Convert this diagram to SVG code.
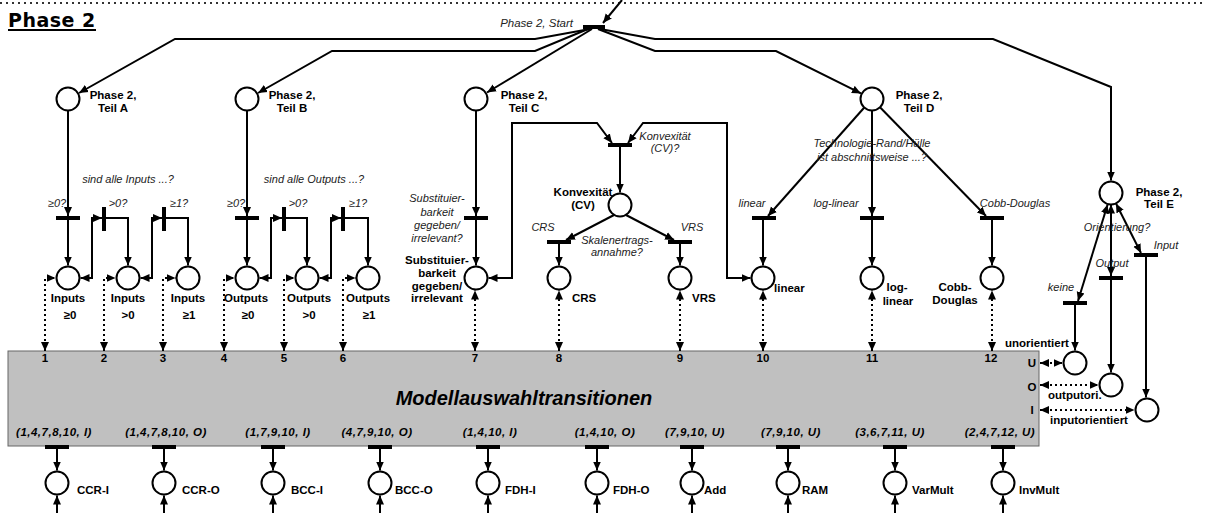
<svg xmlns="http://www.w3.org/2000/svg" width="1206" height="513" viewBox="0 0 1206 513">
<defs>
<marker id="arr" markerUnits="userSpaceOnUse" markerWidth="10" markerHeight="9" refX="9" refY="4" orient="auto-start-reverse" viewBox="0 0 10 8">
<path d="M0,0 L9,4 L0,8 z" fill="#000"/>
</marker>
<style>
.ln{fill:none;stroke:#000;stroke-width:2}
.a{marker-end:url(#arr)}
.aa{marker-start:url(#arr);marker-end:url(#arr)}
.dt{fill:none;stroke:#000;stroke-width:2;stroke-dasharray:2 3}
.pl{fill:#fff;stroke:#000;stroke-width:2}
.tr{fill:#000}
text{font-family:"Liberation Sans",Arial,sans-serif;fill:#000}
.b{font-weight:bold;font-size:11.5px}
.i{font-style:italic;font-size:11px;fill:#222}
.bi{font-weight:bold;font-style:italic;font-size:11.5px;letter-spacing:0.5px}
.m{text-anchor:middle}
</style>
</defs>
<rect width="1206" height="513" fill="#fff"/>
<line x1="0" y1="3" x2="1206" y2="3" stroke="#333" stroke-width="2" stroke-dasharray="2 4"/>
<text x="8" y="27" style="font-family:'DejaVu Sans',sans-serif;font-weight:bold;font-size:19px;letter-spacing:0.5px">Phase 2</text>
<rect x="8" y="29" width="88" height="2" fill="#000"/>

<g id="box">
<rect x="8" y="351" width="1031" height="95" fill="#c0c0c0" stroke="#666" stroke-width="1"/>
<text x="524" y="405" class="m" style="font-weight:bold;font-style:italic;font-size:20px">Modellauswahltransitionen</text>
<g class="b m">
<text x="45" y="362">1</text><text x="104" y="362">2</text><text x="163" y="362">3</text><text x="224" y="362">4</text><text x="284" y="362">5</text><text x="343" y="362">6</text><text x="475" y="362">7</text><text x="559" y="362">8</text><text x="680" y="362">9</text><text x="763" y="362">10</text><text x="872" y="362">11</text><text x="991" y="362">12</text>
<text x="1032" y="367">U</text><text x="1032" y="391">O</text><text x="1032" y="414">I</text>
</g>
<g class="bi m">
<text x="54" y="436">(1,4,7,8,10, I)</text>
<text x="166" y="436">(1,4,7,8,10, O)</text>
<text x="278" y="436">(1,7,9,10, I)</text>
<text x="377" y="436">(4,7,9,10, O)</text>
<text x="490" y="436">(1,4,10, I)</text>
<text x="605" y="436">(1,4,10, O)</text>
<text x="695" y="436">(7,9,10, U)</text>
<text x="791" y="436">(7,9,10, U)</text>
<text x="890" y="436">(3,6,7,11, U)</text>
<text x="1000" y="436">(2,4,7,12, U)</text>
</g>
</g>

<g id="connectors">
<path class="ln a" d="M622,0 L603,23"/>
<path class="ln a" d="M590,29 L535,39 L175,39 L79,93"/>
<path class="ln a" d="M588,29 L535,51 L332,51 L258,93"/>
<path class="ln a" d="M592,29 L487,92.5"/>
<path class="ln a" d="M598,29 L655,51 L776,51 L861,93.4"/>
<path class="ln a" d="M600,29 L655,39 L993,39 L1111,87 L1111,180.5"/>
<path class="ln a" d="M68,111 L68,216"/>
<path class="ln a" d="M68,220 L68,265.5"/>
<path class="ln a" d="M106,218 L128,218 L128,265.5"/>
<path class="ln aa" d="M80.5,278 L92,278 L92,218 L102,218"/>
<path class="ln a" d="M166,218 L188,218 L188,265.5"/>
<path class="ln aa" d="M140.5,278 L152,278 L152,218 L162,218"/>
<path class="ln a" d="M247,111 L247,216"/>
<path class="ln a" d="M247,220 L247,265.5"/>
<path class="ln a" d="M286,218 L307,218 L307,265.5"/>
<path class="ln aa" d="M259.5,278 L271,278 L271,218 L282,218"/>
<path class="ln a" d="M345,218 L368,218 L368,265.5"/>
<path class="ln aa" d="M319.5,278 L331,278 L331,218 L341,218"/>
<path class="ln a" d="M476,111 L476,216"/>
<path class="ln a" d="M476,220 L476,265.5"/>
<path class="ln aa" d="M488.5,278 L512,278 L512,123 L597,123 L612,143"/>
<path class="ln aa" d="M750.5,278 L727,278 L727,123 L643,123 L628,143"/>
<path class="ln a" d="M620,147 L620,192.5"/>
<path class="ln a" d="M614,215 L566,240"/>
<path class="ln a" d="M626,215 L674,240"/>
<path class="ln a" d="M559,244 L559,265.5"/>
<path class="ln a" d="M680,244 L680,265.5"/>
<path class="ln a" d="M864.3,107.5 L768,216"/>
<path class="ln a" d="M872,110.5 L872,216"/>
<path class="ln a" d="M880,107.3 L986,216"/>
<path class="ln a" d="M763,220 L763,265.5"/>
<path class="ln a" d="M872,220 L872,265.5"/>
<path class="ln a" d="M992,220 L992,265.5"/>
<path class="ln aa" d="M1107.6,204.5 L1078,301"/>
<path class="ln aa" d="M1111,204.5 L1111,276"/>
<path class="ln aa" d="M1116,203.5 L1141,253"/>
<path class="ln a" d="M1075,305 L1075,350.5"/>
<path class="ln a" d="M1111,280 L1111,372.5"/>
<path class="ln a" d="M1146,257 L1146,397.5"/>
<path class="dt aa" d="M45,351 L45,278 L55.5,278"/>
<path class="dt aa" d="M104,351 L104,278 L115.5,278"/>
<path class="dt aa" d="M163,351 L163,278 L175.5,278"/>
<path class="dt aa" d="M224,351 L224,278 L234.5,278"/>
<path class="dt aa" d="M284,351 L284,278 L294.5,278"/>
<path class="dt aa" d="M343,351 L343,278 L355.5,278"/>
<path class="dt aa" d="M475,351 L475,290.5"/>
<path class="dt aa" d="M559,351 L559,290.5"/>
<path class="dt aa" d="M680,351 L680,290.5"/>
<path class="dt aa" d="M763,351 L763,290.5"/>
<path class="dt aa" d="M872,351 L872,290.5"/>
<path class="dt aa" d="M992,351 L992,290.5"/>
<path class="dt aa" d="M1040,363 L1062.5,363"/>
<path class="dt aa" d="M1040,385 L1098.5,385"/>
<path class="dt aa" d="M1040,410 L1134.5,410"/>
<path class="ln a" d="M57,449 L57,470.5"/><path class="ln a" d="M57,513 L57,495.5"/>
<path class="ln a" d="M164,449 L164,470.5"/><path class="ln a" d="M164,513 L164,495.5"/>
<path class="ln a" d="M273,449 L273,470.5"/><path class="ln a" d="M273,513 L273,495.5"/>
<path class="ln a" d="M380,449 L380,470.5"/><path class="ln a" d="M380,513 L380,495.5"/>
<path class="ln a" d="M488,449 L488,470.5"/><path class="ln a" d="M488,513 L488,495.5"/>
<path class="ln a" d="M597,449 L597,470.5"/><path class="ln a" d="M597,513 L597,495.5"/>
<path class="ln a" d="M692,449 L692,470.5"/><path class="ln a" d="M692,513 L692,495.5"/>
<path class="ln a" d="M788,449 L788,470.5"/><path class="ln a" d="M788,513 L788,495.5"/>
<path class="ln a" d="M895,449 L895,470.5"/><path class="ln a" d="M895,513 L895,495.5"/>
<path class="ln a" d="M1003,449 L1003,470.5"/><path class="ln a" d="M1003,513 L1003,495.5"/>
</g>

<g id="transitions">
<rect id="t-start" class="tr" x="583" y="25" width="22" height="4"/>
<text class="i" x="573" y="27" text-anchor="end" style="font-size:11.5px">Phase 2, Start</text>
<g id="t-a0"><rect class="tr" x="56" y="216" width="24" height="4"/><text class="i m" x="57" y="207">≥0?</text></g>
<g id="t-a1"><rect class="tr" x="102" y="207" width="4" height="24"/><text class="i m" x="118" y="207">&gt;0?</text></g>
<g id="t-a2"><rect class="tr" x="162" y="207" width="4" height="24"/><text class="i m" x="179" y="207">≥1?</text></g>
<text class="i m" x="128" y="183">sind alle Inputs ...?</text>
<g id="t-b0"><rect class="tr" x="235" y="216" width="24" height="4"/><text class="i m" x="236" y="207">≥0?</text></g>
<g id="t-b1"><rect class="tr" x="282" y="207" width="4" height="24"/><text class="i m" x="298" y="207">&gt;0?</text></g>
<g id="t-b2"><rect class="tr" x="341" y="207" width="4" height="24"/><text class="i m" x="358" y="207">≥1?</text></g>
<text class="i m" x="314" y="183">sind alle Outputs ...?</text>
<g id="t-c"><rect class="tr" x="464" y="216" width="24" height="4"/>
<text class="i m" x="437" y="202">Substituier-</text><text class="i m" x="437" y="216">barkeit</text><text class="i m" x="437" y="229">gegeben/</text><text class="i m" x="437" y="242">irrelevant?</text></g>
<g id="t-cv"><rect class="tr" x="608" y="143" width="24" height="4"/><text class="i m" x="665" y="140">Konvexität</text><text class="i m" x="665" y="152">(CV)?</text></g>
<g id="t-crs"><rect class="tr" x="547" y="240" width="24" height="4"/><text class="i m" x="543" y="231">CRS</text></g>
<g id="t-vrs"><rect class="tr" x="668" y="240" width="24" height="4"/><text class="i m" x="692" y="231">VRS</text></g>
<text class="i m" x="617" y="244">Skalenertrags-</text><text class="i m" x="617" y="256">annahme?</text>
<text class="i m" x="872" y="147">Technologie-Rand/Hülle</text><text class="i m" x="872" y="161">ist abschnittsweise ...?</text>
<g id="t-lin"><rect class="tr" x="752" y="216" width="24" height="4"/><text class="i m" x="752" y="207">linear</text></g>
<g id="t-log"><rect class="tr" x="860" y="216" width="24" height="4"/><text class="i m" x="836" y="207">log-linear</text></g>
<g id="t-cd"><rect class="tr" x="980" y="216" width="24" height="4"/><text class="i m" x="1015" y="207">Cobb-Douglas</text></g>
<text class="i m" x="1117" y="231">Orientierung?</text>
<g id="t-keine"><rect class="tr" x="1063" y="301" width="24" height="4"/><text class="i m" x="1061" y="291">keine</text></g>
<g id="t-out"><rect class="tr" x="1099" y="276" width="24" height="4"/><text class="i m" x="1112" y="267">Output</text></g>
<g id="t-in"><rect class="tr" x="1134" y="253" width="24" height="4"/><text class="i m" x="1166" y="249">Input</text></g>
<rect class="tr" x="45" y="445" width="24" height="4"/>
<rect class="tr" x="152" y="445" width="24" height="4"/>
<rect class="tr" x="261" y="445" width="24" height="4"/>
<rect class="tr" x="368" y="445" width="24" height="4"/>
<rect class="tr" x="476" y="445" width="24" height="4"/>
<rect class="tr" x="585" y="445" width="24" height="4"/>
<rect class="tr" x="680" y="445" width="24" height="4"/>
<rect class="tr" x="776" y="445" width="24" height="4"/>
<rect class="tr" x="883" y="445" width="24" height="4"/>
<rect class="tr" x="991" y="445" width="24" height="4"/>
</g>

<g id="p-a"><circle class="pl" cx="68" cy="99" r="11.5"/><text class="b m" x="113" y="99">Phase 2,</text><text class="b m" x="113" y="112">Teil A</text></g>
<g id="p-b"><circle class="pl" cx="247" cy="99" r="11.5"/><text class="b m" x="292" y="99">Phase 2,</text><text class="b m" x="292" y="112">Teil B</text></g>
<g id="p-c"><circle class="pl" cx="476" cy="99" r="11.5"/><text class="b m" x="524" y="99">Phase 2,</text><text class="b m" x="524" y="112">Teil C</text></g>
<g id="p-d"><circle class="pl" cx="872" cy="99" r="11.5"/><text class="b m" x="919" y="99">Phase 2,</text><text class="b m" x="919" y="112">Teil D</text></g>
<g id="p-e"><circle class="pl" cx="1111" cy="193" r="11.5"/><text class="b m" x="1159" y="196">Phase 2,</text><text class="b m" x="1159" y="208">Teil E</text></g>
<g id="p-in0"><circle class="pl" cx="68" cy="278" r="11.5"/><text class="b m" x="68" y="302">Inputs</text><text class="b m" x="70" y="319">≥0</text></g>
<g id="p-in1"><circle class="pl" cx="128" cy="278" r="11.5"/><text class="b m" x="128" y="302">Inputs</text><text class="b m" x="128" y="319">&gt;0</text></g>
<g id="p-in2"><circle class="pl" cx="188" cy="278" r="11.5"/><text class="b m" x="188" y="302">Inputs</text><text class="b m" x="189" y="319">≥1</text></g>
<g id="p-out0"><circle class="pl" cx="247" cy="278" r="11.5"/><text class="b m" x="246" y="302">Outputs</text><text class="b m" x="248" y="319">≥0</text></g>
<g id="p-out1"><circle class="pl" cx="307" cy="278" r="11.5"/><text class="b m" x="309" y="302">Outputs</text><text class="b m" x="309" y="319">&gt;0</text></g>
<g id="p-out2"><circle class="pl" cx="368" cy="278" r="11.5"/><text class="b m" x="368" y="302">Outputs</text><text class="b m" x="369" y="319">≥1</text></g>
<g id="p-sub"><circle class="pl" cx="476" cy="278" r="11.5"/><text class="b m" x="437" y="264">Substituier-</text><text class="b m" x="437" y="277">barkeit</text><text class="b m" x="437" y="290">gegeben/</text><text class="b m" x="437" y="302">irrelevant</text></g>
<g id="p-cv"><circle class="pl" cx="620" cy="205" r="11.5"/><text class="b m" x="583" y="196">Konvexität</text><text class="b m" x="583" y="209">(CV)</text></g>
<g id="p-crs"><circle class="pl" cx="559" cy="278" r="11.5"/><text class="b" x="572" y="302">CRS</text></g>
<g id="p-vrs"><circle class="pl" cx="680" cy="278" r="11.5"/><text class="b" x="692" y="302">VRS</text></g>
<g id="p-lin"><circle class="pl" cx="763" cy="278" r="11.5"/><text class="b" x="774" y="292">linear</text></g>
<g id="p-log"><circle class="pl" cx="872" cy="278" r="11.5"/><text class="b m" x="897" y="291">log-</text><text class="b m" x="898" y="305">linear</text></g>
<g id="p-cd"><circle class="pl" cx="992" cy="278" r="11.5"/><text class="b m" x="955" y="291">Cobb-</text><text class="b m" x="955" y="304">Douglas</text></g>
<g id="p-u"><circle class="pl" cx="1075" cy="363" r="11.5"/><text class="b m" x="1037" y="347">unorientiert</text></g>
<g id="p-o"><circle class="pl" cx="1111" cy="385" r="11.5"/><text class="b" x="1048" y="399">outputori.</text></g>
<g id="p-i"><circle class="pl" cx="1147" cy="410" r="11.5"/><text class="b" x="1050" y="424">inputorientiert</text></g>
<g id="p-ccri"><circle class="pl" cx="57" cy="483" r="11.5"/><text class="b" x="77" y="494">CCR-I</text></g>
<g id="p-ccro"><circle class="pl" cx="164" cy="483" r="11.5"/><text class="b" x="182" y="494">CCR-O</text></g>
<g id="p-bcci"><circle class="pl" cx="273" cy="483" r="11.5"/><text class="b" x="291" y="494">BCC-I</text></g>
<g id="p-bcco"><circle class="pl" cx="380" cy="483" r="11.5"/><text class="b" x="395" y="494">BCC-O</text></g>
<g id="p-fdhi"><circle class="pl" cx="488" cy="483" r="11.5"/><text class="b" x="505" y="494">FDH-I</text></g>
<g id="p-fdho"><circle class="pl" cx="597" cy="483" r="11.5"/><text class="b" x="613" y="494">FDH-O</text></g>
<g id="p-add"><circle class="pl" cx="692" cy="483" r="11.5"/><text class="b" x="704" y="494">Add</text></g>
<g id="p-ram"><circle class="pl" cx="788" cy="483" r="11.5"/><text class="b" x="802" y="494">RAM</text></g>
<g id="p-varmult"><circle class="pl" cx="895" cy="483" r="11.5"/><text class="b" x="912" y="494">VarMult</text></g>
<g id="p-invmult"><circle class="pl" cx="1003" cy="483" r="11.5"/><text class="b" x="1019" y="494">InvMult</text></g>
</svg>
